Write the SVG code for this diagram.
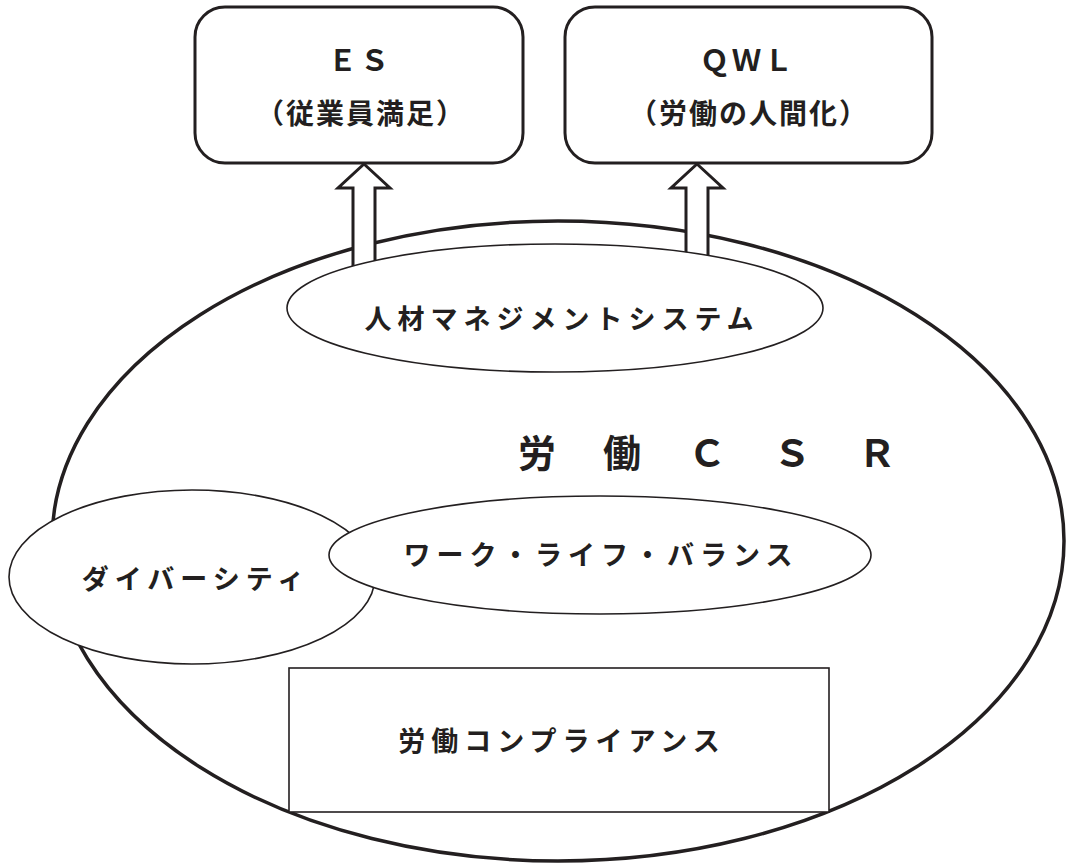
<svg xmlns="http://www.w3.org/2000/svg" width="1067" height="864" viewBox="0 0 1067 864">
<style>
.t{font-family:"Noto Sans CJK JP","Noto Sans",sans-serif;fill:#231f20;font-weight:700;text-anchor:middle}
.box{fill:#fff;stroke:#231f20;stroke-width:3}
.thin{fill:#fff;stroke:#231f20;stroke-width:1.6}
.arrow{fill:#fff;stroke:#231f20;stroke-width:3;stroke-linejoin:miter}
</style>
<rect width="1067" height="864" fill="#fff"/>
<g id="csr">
<ellipse cx="558" cy="541" rx="506" ry="320" fill="#fff" stroke="#231f20" stroke-width="3.5"/>
<text class="t" x="518" y="467" font-size="38" style="text-anchor:start" letter-spacing="47">労働ＣＳＲ</text>
</g>
<g id="connectors">
<path class="arrow" d="M364 164 L390 188 L375 188 L375 285 L353 285 L353 188 L338 188 Z"/>
<path class="arrow" d="M697 164 L723 188 L708 188 L708 285 L686 285 L686 188 L671 188 Z"/>
</g>
<g id="es">
<rect class="box" x="195" y="7" width="328" height="156" rx="30"/>
<text class="t" x="360" y="71" font-size="29" letter-spacing="3">ＥＳ</text>
<text class="t" x="361" y="124" font-size="28" letter-spacing="2">（従業員満足）</text>
</g>
<g id="qwl">
<rect class="box" x="565" y="7" width="367" height="156" rx="30"/>
<text class="t" x="748" y="71" font-size="29" letter-spacing="3">ＱＷＬ</text>
<text class="t" x="749" y="124" font-size="28" letter-spacing="2">（労働の人間化）</text>
</g>
<g id="hrm">
<ellipse class="thin" cx="555" cy="308" rx="268" ry="64"/>
<text class="t" x="562" y="329" font-size="27" letter-spacing="6">人材マネジメントシステム</text>
</g>
<g id="diversity">
<ellipse class="thin" cx="192" cy="577" rx="183" ry="87"/>
<text class="t" x="196" y="589" font-size="27" letter-spacing="6">ダイバーシティ</text>
</g>
<g id="wlb">
<ellipse class="thin" cx="600" cy="555" rx="271" ry="59"/>
<text class="t" x="601" y="565" font-size="27" letter-spacing="6">ワーク・ライフ・バランス</text>
</g>
<g id="compliance">
<rect class="thin" x="289" y="668" width="540" height="144"/>
<text class="t" x="562" y="751" font-size="27" letter-spacing="6">労働コンプライアンス</text>
</g>
</svg>
